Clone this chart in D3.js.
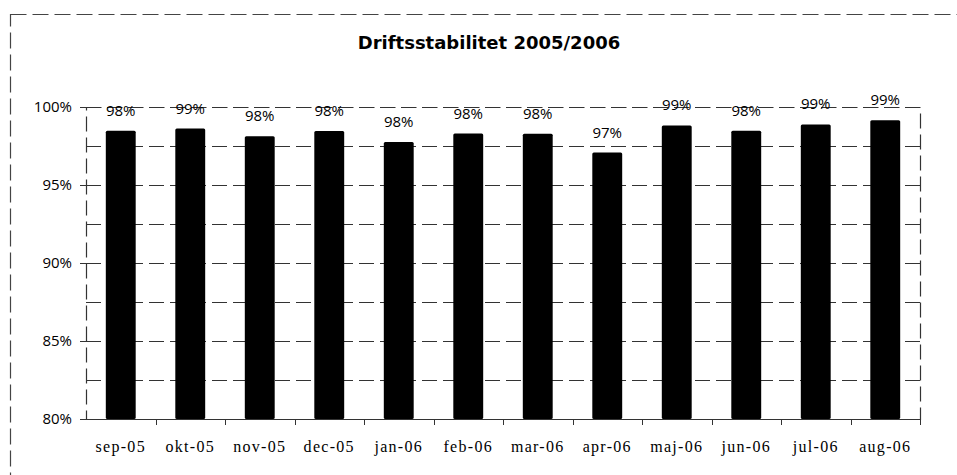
<!DOCTYPE html>
<html>
<head>
<meta charset="utf-8">
<script src="https://cdn.jsdelivr.net/npm/d3@7"></script>
<style>
  body { margin: 0; background: #fff; }
  svg { display: block; }
  .lbl { font-family: "Open Sans", sans-serif; font-size: 15px; }
  .cat { font-family: "Liberation Serif", serif; font-size: 16px; letter-spacing: 1.3px; }
  .ttl { font-family: "DejaVu Sans", sans-serif; font-size: 18px; font-weight: bold; }
</style>
</head>
<body>
<div id="plot"></div>
<script>
// Values (percent)
const months = ["sep-05", "okt-05", "nov-05", "dec-05", "jan-06", "feb-06",
                "mar-06", "apr-06", "maj-06", "jun-06", "jul-06", "aug-06"];
const stability = [98.48, 98.62, 98.12, 98.46, 97.76, 98.3,
                   98.28, 97.08, 98.82, 98.48, 98.88, 99.15];
const gridTicks = [80, 82.5, 85, 87.5, 90, 92.5, 95, 97.5, 100];
const labelTicks = [80, 85, 90, 95, 100];

const width = 957, height = 475;
const margin = { top: 107, right: 37, bottom: 56, left: 86 };

const svg = d3.select("#plot").append("svg")
    .attr("width", width)
    .attr("height", height);

// outer chart frame (runs past the right and bottom edges)
svg.append("rect")
    .attr("x", 10.5).attr("y", 14.5)
    .attr("width", 980).attr("height", 500)
    .attr("fill", "none")
    .attr("stroke", "#444")
    .attr("stroke-width", 1.2)
    .attr("stroke-dasharray", "16,6");

svg.append("text")
    .attr("class", "ttl")
    .attr("x", 489).attr("y", 49)
    .attr("text-anchor", "middle")
    .text("Driftsstabilitet 2005/2006");

const x = d3.scaleBand()
    .domain(months)
    .range([margin.left, width - margin.right])
    .paddingInner(0.57)
    .paddingOuter(0.285);

const y = d3.scaleLinear()
    .domain([80, 100])
    .range([height - margin.bottom, margin.top]);

// gridlines
svg.append("g")
    .selectAll("line")
    .data(gridTicks)
    .join("line")
    .attr("x1", margin.left).attr("x2", width - margin.right)
    .attr("y1", d => Math.round(y(d)) + 0.5)
    .attr("y2", d => Math.round(y(d)) + 0.5)
    .attr("stroke", "#333")
    .attr("stroke-width", 1.2)
    .attr("stroke-dasharray", "15,6");

// plot area border
svg.append("rect")
    .attr("x", margin.left + 0.5).attr("y", margin.top + 0.5)
    .attr("width", width - margin.right - margin.left)
    .attr("height", y(80) - y(100))
    .attr("fill", "none")
    .attr("stroke", "#333")
    .attr("stroke-width", 1.2)
    .attr("stroke-dasharray", "15,6");

// bars
svg.append("g")
    .selectAll("rect")
    .data(stability)
    .join("rect")
    .attr("x", (d, i) => x(months[i]))
    .attr("y", d => y(d))
    .attr("width", x.bandwidth())
    .attr("height", d => y(80) - y(d))
    .attr("rx", 1.5)
    .attr("fill", "#000");

// data labels
svg.append("g")
    .selectAll("text")
    .data(stability)
    .join("text")
    .attr("class", "lbl")
    .attr("x", (d, i) => x(months[i]) + x.bandwidth() / 2)
    .attr("y", d => y(d) - 15)
    .attr("text-anchor", "middle")
    .text(d => Math.round(d) + "%");

// y axis
const yAxis = d3.axisLeft(y)
    .tickValues(labelTicks)
    .tickSize(6)
    .tickPadding(8)
    .tickFormat(d => d + "%");

svg.append("g")
    .attr("transform", `translate(${margin.left},0)`)
    .call(yAxis)
    .attr("font-family", null)
    .attr("font-size", null)
    .call(g => g.select(".domain").remove())
    .call(g => g.selectAll("line").attr("stroke", "#333"))
    .call(g => g.selectAll("text").attr("class", "lbl").attr("fill", "#000"));

// x axis: labels under bands, ticks at band boundaries
const xAxis = d3.axisBottom(x).tickSize(0).tickPadding(22);
svg.append("g")
    .attr("transform", `translate(0,${y(80)})`)
    .call(xAxis)
    .attr("font-family", null)
    .attr("font-size", null)
    .call(g => g.select(".domain").remove())
    .call(g => g.selectAll("text").attr("class", "cat").attr("fill", "#000"));

const step = x.step();
svg.append("g")
    .selectAll("line")
    .data(months)
    .join("line")
    .attr("x1", d => Math.round(x(d) + x.bandwidth() / 2 + step / 2) + 0.5)
    .attr("x2", d => Math.round(x(d) + x.bandwidth() / 2 + step / 2) + 0.5)
    .attr("y1", y(80))
    .attr("y2", y(80) + 6)
    .attr("stroke", "#333");
</script>
</body>
</html>
